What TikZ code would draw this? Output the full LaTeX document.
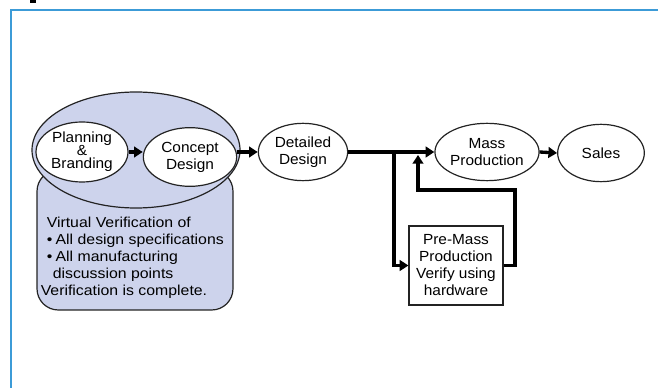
\documentclass[tikz,border=0pt]{standalone}
\usepackage{fontspec}
\setmainfont{Liberation Sans}
\newfontfamily\nodefont[FakeStretch=1.05]{Liberation Sans}
\newfontfamily\bodyfont[FakeStretch=1.1]{Liberation Sans}
\usetikzlibrary{shapes.geometric,arrows.meta}
\definecolor{framecol}{RGB}{60,155,215}
\definecolor{fillcol}{RGB}{205,211,236}
\definecolor{edgecol}{RGB}{35,35,35}
\newcommand{\tightlines}{\lineskiplimit=-10pt\relax}
\newcommand{\bul}{\textbullet\kern2.5pt}
\begin{document}
\begin{tikzpicture}[x=0.75pt,y=-0.75pt,
  stage/.style={ellipse,draw=edgecol,line width=0.9pt,fill=white,inner sep=0pt,align=center,
    font=\nodefont\fontsize{11}{12.75}\selectfont},
  stagebox/.style={rectangle,draw=edgecol,line width=0.9pt,fill=white,inner sep=0pt,align=center,
    font=\nodefont\fontsize{11}{12.75}\selectfont},
  region/.style={draw=edgecol,line width=0.9pt,fill=fillcol},
  arr/.style={line width=2.5pt,-{Triangle[length=6.5pt,width=8pt]}}]
\useasboundingbox (0,0) rectangle (658,388);
% frame
\draw[framecol,line width=1.6pt] (11,388) -- (11,10) -- (658,10);
\fill (30,0) rectangle (36,3);
% shaded region
\draw[region,rounded corners=16pt] (37,170) rectangle (233,310);
\node[region,ellipse,minimum width=156pt,minimum height=87pt,inner sep=0pt] (big) at (136,150) {};
\node[anchor=north west,inner sep=0pt,align=left,font=\bodyfont\fontsize{10.8}{12.75}\selectfont] (txt) at (46.5,217)
  {Virtual Verification of\\
   \bul All design specifications\\
   \bul All manufacturing\\
   \hspace*{4.5pt}discussion points\\
   \hspace*{-4.5pt}Verification is complete.};
% stages
\node[stage,minimum width=69pt,minimum height=45pt,
  font=\nodefont\fontsize{11}{9.75}\selectfont\tightlines] (plan) at (82,152)
  {Planning\\\&\\Branding};
\node[stage,minimum width=70pt,minimum height=44pt] (concept) at (190,157) {Concept\\Design};
\node[stage,minimum width=67pt,minimum height=43pt] (detail) at (303,152) {Detailed\\Design};
\node[stage,minimum width=67.5pt,minimum height=43pt] (mass) at (487,152) {Mass\\Production};
\node[stage,minimum width=65pt,minimum height=43pt] (sales) at (601,153) {Sales};
\node[stagebox,minimum width=70.5pt,minimum height=59.25pt] (pre) at (456,265.5) {Pre-Mass\\Production\\Verify using\\hardware};
% connectors
\draw[arr] (plan.east) -- (plan.east -| concept.west);
\draw[arr] (detail.west -| concept.east) -- (detail.west);
\draw[arr] (detail.east) -- (mass.west);
\draw[arr] (mass.east) -- (sales.west);
\coordinate (split) at (394,152);
\coordinate (back) at (418,155);
\draw[arr] (split) |- (pre.west);
\draw[arr] (pre.east) -- (pre.east -| 515,0) -- (515,190) -- (418,190) -- (back);
\end{tikzpicture}
\end{document}
